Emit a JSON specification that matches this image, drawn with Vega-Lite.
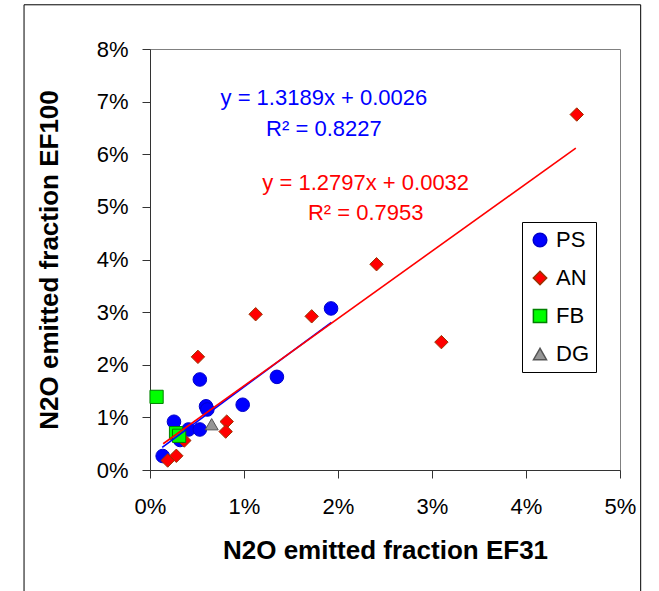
{
  "$schema": "https://vega.github.io/schema/vega-lite/v6.json",
  "width": 470,
  "height": 421,
  "autosize": {"type": "none"},
  "padding": {"left": 150, "top": 49, "right": 39, "bottom": 121},
  "background": "white",
  "config": {
    "font": "Liberation Sans",
    "view": {"stroke": "#808080", "strokeWidth": 1},
    "axis": {
      "grid": false,
      "domainColor": "#333333",
      "tickColor": "#333333",
      "labelColor": "black",
      "titleColor": "black",
      "labelFontSize": 22,
      "titleFontSize": 26,
      "titleFontWeight": "bold",
      "tickSize": 8,
      "labelFlush": false
    }
  },
  "datasets": {
    "samples": [
      {"group": "PS", "ef31": 0.00135, "ef100": 0.00266},
      {"group": "PS", "ef31": 0.00255, "ef100": 0.00917},
      {"group": "PS", "ef31": 0.0032, "ef100": 0.0057},
      {"group": "PS", "ef31": 0.0041, "ef100": 0.0077},
      {"group": "PS", "ef31": 0.0053, "ef100": 0.0077},
      {"group": "PS", "ef31": 0.0053, "ef100": 0.0172},
      {"group": "PS", "ef31": 0.00596, "ef100": 0.0121},
      {"group": "PS", "ef31": 0.0061, "ef100": 0.0115},
      {"group": "PS", "ef31": 0.00986, "ef100": 0.0124},
      {"group": "PS", "ef31": 0.0135, "ef100": 0.0177},
      {"group": "PS", "ef31": 0.01926, "ef100": 0.0307},
      {"group": "AN", "ef31": 0.00188, "ef100": 0.0018},
      {"group": "AN", "ef31": 0.0028, "ef100": 0.0027},
      {"group": "AN", "ef31": 0.00365, "ef100": 0.0056},
      {"group": "AN", "ef31": 0.0051, "ef100": 0.0215},
      {"group": "AN", "ef31": 0.00816, "ef100": 0.0092},
      {"group": "AN", "ef31": 0.00805, "ef100": 0.0073},
      {"group": "AN", "ef31": 0.01124, "ef100": 0.0296},
      {"group": "AN", "ef31": 0.0172, "ef100": 0.0292},
      {"group": "AN", "ef31": 0.0241, "ef100": 0.0391},
      {"group": "AN", "ef31": 0.031, "ef100": 0.0243},
      {"group": "AN", "ef31": 0.0454, "ef100": 0.06755},
      {"group": "FB", "ef31": 0.0007, "ef100": 0.0139},
      {"group": "FB", "ef31": 0.00277, "ef100": 0.007},
      {"group": "FB", "ef31": 0.0031, "ef100": 0.0065},
      {"group": "DG", "ef31": 0.00656, "ef100": 0.0087}
    ],
    "trend_all": [
      {"ef31": 0.0014, "ef100": 0.00499158},
      {"ef31": 0.0453, "ef100": 0.06117041}
    ],
    "trend_ps": [
      {"ef31": 0.0013, "ef100": 0.00431457},
      {"ef31": 0.0193, "ef100": 0.02805477}
    ]
  },
  "data": {"name": "samples"},
  "layer": [
    {
      "mark": {"type": "point", "filled": true, "strokeWidth": 1, "opacity": 1},
      "encoding": {
        "x": {
          "field": "ef31",
          "type": "quantitative",
          "scale": {"domain": [0, 0.05], "nice": false},
          "axis": {
            "values": [0, 0.01, 0.02, 0.03, 0.04, 0.05],
            "format": ".0%",
            "title": "N2O emitted fraction EF31",
            "labelPadding": 18,
            "titlePadding": 20
          }
        },
        "y": {
          "field": "ef100",
          "type": "quantitative",
          "scale": {"domain": [0, 0.08], "nice": false},
          "axis": {
            "values": [0, 0.01, 0.02, 0.03, 0.04, 0.05, 0.06, 0.07, 0.08],
            "format": ".0%",
            "title": "N2O emitted fraction EF100",
            "labelPadding": 14,
            "titlePadding": 34
          }
        },
        "fill": {
          "field": "group",
          "type": "nominal",
          "scale": {"domain": ["PS", "AN", "FB", "DG"], "range": ["#0000FF", "#FF0000", "#00FF00", "#969696"]},
          "legend": {
            "title": null,
            "orient": "none",
            "legendX": 372,
            "legendY": 173,
            "strokeColor": "black",
            "fillColor": "white",
            "padding": 7,
            "rowPadding": 16,
            "labelFontSize": 22,
            "labelColor": "black",
            "labelOffset": 5
          }
        },
        "stroke": {
          "field": "group",
          "type": "nominal",
          "scale": {"domain": ["PS", "AN", "FB", "DG"], "range": ["#0000CC", "#993300", "#008000", "#555555"]}
        },
        "shape": {
          "field": "group",
          "type": "nominal",
          "scale": {"domain": ["PS", "AN", "FB", "DG"], "range": ["circle", "diamond", "square", "triangle-up"]}
        },
        "size": {
          "field": "group",
          "type": "nominal",
          "scale": {"domain": ["PS", "AN", "FB", "DG"], "range": [185, 170, 144, 121]}
        }
      }
    },
    {
      "data": {"values": [{}]},
      "mark": {"type": "rect", "fill": null, "stroke": "black", "strokeWidth": 1, "clip": false},
      "encoding": {
        "x": {"datum": -0.0134, "type": "quantitative"},
        "x2": {"datum": 0.0522},
        "y": {"datum": 0.0884, "type": "quantitative"},
        "y2": {"datum": -0.026}
      }
    },
    {
      "data": {"name": "trend_ps"},
      "mark": {"type": "line", "color": "#0000FF", "strokeWidth": 1.6},
      "encoding": {
        "x": {"field": "ef31", "type": "quantitative"},
        "y": {"field": "ef100", "type": "quantitative"}
      }
    },
    {
      "data": {"name": "trend_all"},
      "mark": {"type": "line", "color": "#FF0000", "strokeWidth": 1.6},
      "encoding": {
        "x": {"field": "ef31", "type": "quantitative"},
        "y": {"field": "ef100", "type": "quantitative"}
      }
    },
    {
      "data": {"values": [{}]},
      "mark": {
        "type": "text",
        "text": ["y = 1.3189x + 0.0026", "R² = 0.8227"],
        "color": "#0000FF",
        "fontSize": 22,
        "lineHeight": 31,
        "align": "center",
        "baseline": "middle"
      },
      "encoding": {
        "x": {"datum": 0.0185, "type": "quantitative"},
        "y": {"datum": 0.0706, "type": "quantitative"}
      }
    },
    {
      "data": {"values": [{}]},
      "mark": {
        "type": "text",
        "text": ["y = 1.2797x + 0.0032", "R² = 0.7953"],
        "color": "#FF0000",
        "fontSize": 22,
        "lineHeight": 30,
        "align": "center",
        "baseline": "middle"
      },
      "encoding": {
        "x": {"datum": 0.02295, "type": "quantitative"},
        "y": {"datum": 0.0546, "type": "quantitative"}
      }
    }
  ]
}
